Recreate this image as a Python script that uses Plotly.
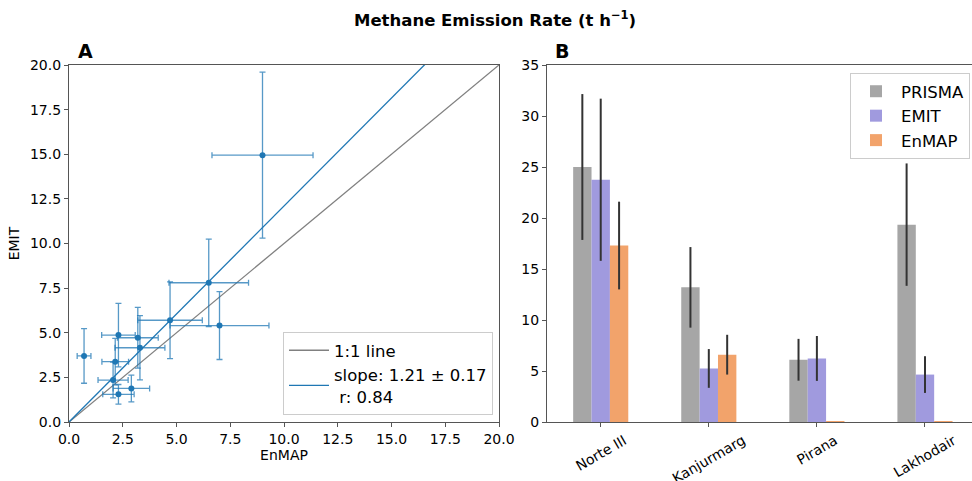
import plotly.graph_objects as go

# ---------------- Panel A data (EnMAP vs EMIT) ----------------
enmap_x = [9.0, 6.5, 7.0, 4.7, 0.7, 2.3, 3.2, 3.3, 2.15, 2.05, 2.9, 2.3]
enmap_xerr = [2.35, 1.85, 2.3, 1.5, 0.32, 0.78, 0.95, 1.16, 0.62, 0.7, 0.85, 0.73]
emit_y = [14.95, 7.8, 5.4, 5.7, 3.7, 4.87, 4.72, 4.16, 3.38, 2.35, 1.88, 1.55]
emit_yerr = [4.65, 2.45, 1.9, 2.15, 1.53, 1.78, 1.7, 1.8, 1.3, 1.0, 0.75, 0.55]
fit_slope = 1.21
fit_slope_err = 0.17
fit_r = 0.84
line_x = [0, 20]

# ---------------- Panel B data (bar chart) ----------------
sites = ["Norte III", "Kanjurmarg", "Pirana", "Lakhodair"]
prisma = [25.0, 13.2, 6.1, 19.35]
prisma_err = [7.15, 3.95, 2.05, 6.0]
emit = [23.75, 5.25, 6.23, 4.65]
emit_err = [7.95, 1.9, 2.2, 1.8]
enmap = [17.3, 6.6, 0.08, 0.08]
enmap_err = [4.3, 1.95, 0, 0]

W, H = 972, 481
def px_x(p): return p / W
def px_y(p): return 1 - p / H

FONT = "DejaVu Sans"
BLUE = "#1f77b4"
SPINE = "#555555"

fig = go.Figure()

# Panel A
fig.add_trace(go.Scatter(
    x=line_x, y=line_x, mode="lines", line=dict(color="gray", width=1.3),
    name="1:1 line", xaxis="x", yaxis="y", legend="legend"))
fig.add_trace(go.Scatter(
    x=line_x, y=[fit_slope * v for v in line_x], mode="lines",
    line=dict(color=BLUE, width=1.3),
    name=f"slope: {fit_slope:.2f} ± {fit_slope_err:.2f}<br> r: {fit_r:.2f}",
    xaxis="x", yaxis="y", legend="legend"))
fig.add_trace(go.Scatter(
    x=enmap_x, y=emit_y, mode="markers",
    marker=dict(color=BLUE, size=6),
    error_x=dict(type="data", array=enmap_xerr, color="rgba(31,119,180,0.75)", thickness=1.3, width=3),
    error_y=dict(type="data", array=emit_yerr, color="rgba(31,119,180,0.75)", thickness=1.3, width=3),
    showlegend=False, xaxis="x", yaxis="y"))

# Panel B
bar_specs = [("PRISMA", prisma, prisma_err, "#a6a6a6"),
             ("EMIT", emit, emit_err, "#a09ade"),
             ("EnMAP", enmap, enmap_err, "#f2a36b")]
for name, vals, errs, col in bar_specs:
    fig.add_trace(go.Bar(
        x=sites, y=vals, name=name, marker=dict(color=col, line=dict(width=0)),
        error_y=dict(type="data", array=errs, color="#333333", thickness=2, width=0),
        xaxis="x2", yaxis="y2", legend="legend2"))

axis_common = dict(showline=True, linecolor=SPINE, linewidth=1.3, mirror=True,
                   ticks="outside", ticklen=4, tickcolor=SPINE, showgrid=False,
                   zeroline=False, automargin=False,
                   tickfont=dict(family=FONT, size=14, color="black"))

# rotated, centred category labels for panel B
site_labels = [dict(text=s, x=s, xref="x2", y=px_y(429), yref="paper", showarrow=False,
                    textangle=-30, xanchor="center", yanchor="top",
                    font=dict(family=FONT, size=14, color="black")) for s in sites]

fig.update_layout(
    width=W, height=H,
    margin=dict(l=0, r=0, t=0, b=0, autoexpand=False),
    paper_bgcolor="white", plot_bgcolor="white",
    font=dict(family=FONT, color="black"),
    barmode="group", bargap=0.49, bargroupgap=0,
    xaxis=dict(domain=[px_x(69), px_x(499)], range=[0, 20], dtick=2.5, tickformat=".1f",
               anchor="y",
               title=dict(text="EnMAP", font=dict(family=FONT, size=14), standoff=2),
               **axis_common),
    yaxis=dict(domain=[px_y(422), px_y(65)], range=[0, 20], dtick=2.5, tickformat=".1f",
               anchor="x",
               title=dict(text="EMIT", font=dict(family=FONT, size=14), standoff=6),
               **axis_common),
    xaxis2=dict(domain=[px_x(547), 1.0], range=[-0.497, 3.435], anchor="y2",
                showticklabels=False, **axis_common),
    yaxis2=dict(domain=[px_y(422), px_y(65)], range=[0, 35], dtick=5, anchor="x2",
                **axis_common),
    legend=dict(x=px_x(493), y=px_y(415), xanchor="right", yanchor="bottom",
                bgcolor="white", bordercolor="#cccccc", borderwidth=1,
                font=dict(family=FONT, size=16.5), tracegroupgap=4, itemwidth=40),
    legend2=dict(x=px_x(970), y=px_y(73), xanchor="right", yanchor="top",
                 bgcolor="white", bordercolor="#cccccc", borderwidth=1,
                 font=dict(family=FONT, size=16.5), itemwidth=40),
    annotations=[
        dict(text="<b>Methane Emission Rate (t h<sup>−1</sup>)</b>", x=px_x(495), y=px_y(19),
             xref="paper", yref="paper", showarrow=False, xanchor="center", yanchor="middle",
             font=dict(family=FONT, size=16.5)),
        dict(text="<b>A</b>", x=px_x(76), y=px_y(51), xref="paper", yref="paper",
             showarrow=False, xanchor="left", yanchor="middle", font=dict(family=FONT, size=19)),
        dict(text="<b>B</b>", x=px_x(553), y=px_y(51), xref="paper", yref="paper",
             showarrow=False, xanchor="left", yanchor="middle", font=dict(family=FONT, size=19)),
    ] + site_labels,
)

fig.write_html("out.html")
